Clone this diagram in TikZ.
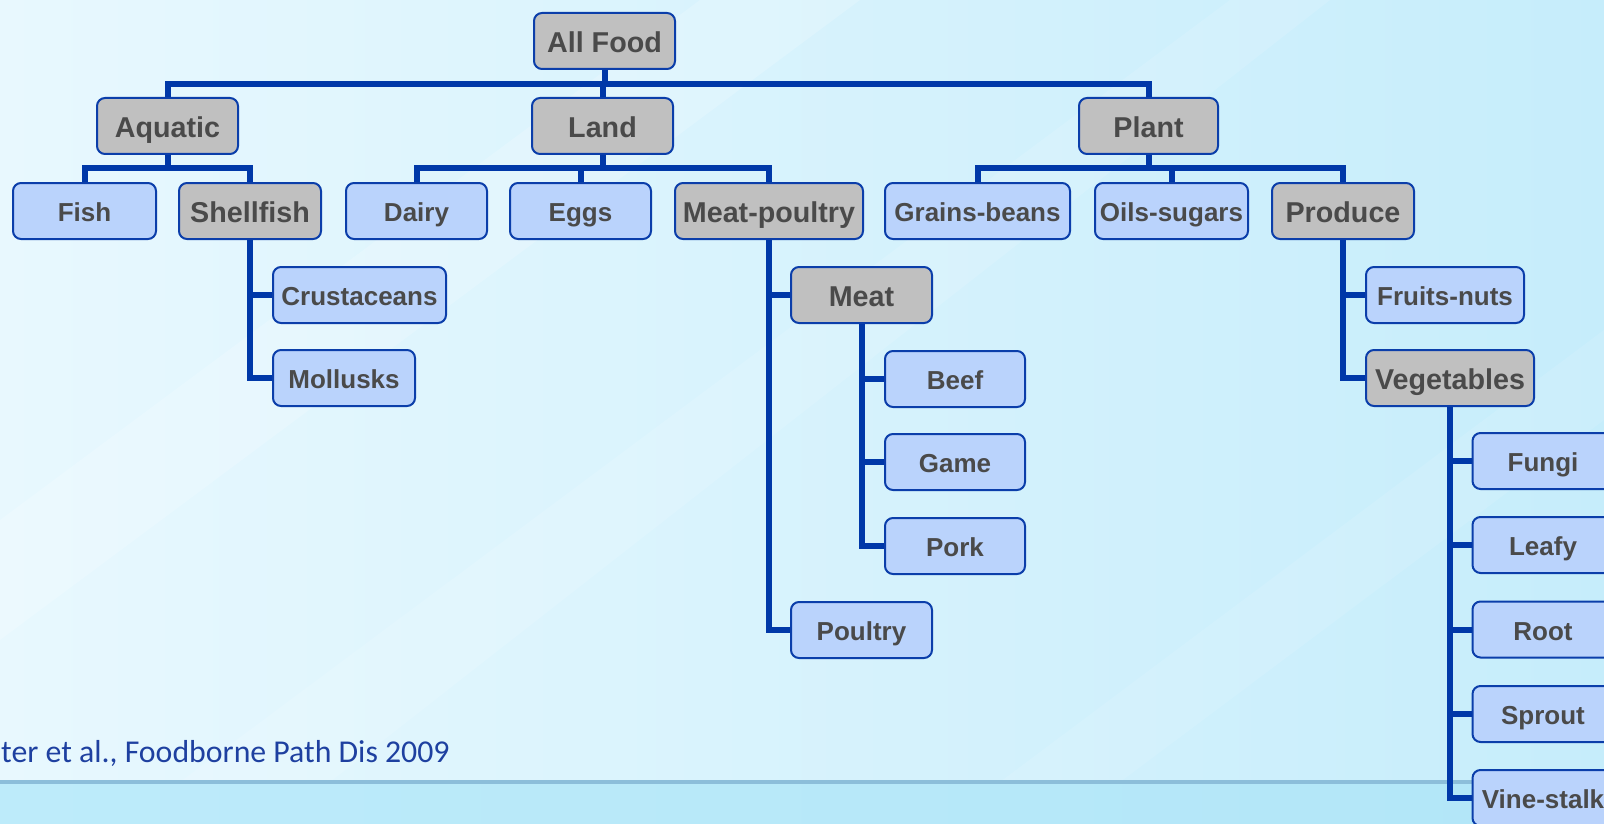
\documentclass[tikz,border=0pt]{standalone}
\usepackage{fontspec}
\setmainfont{Liberation Sans}
\newfontfamily\citefont{Carlito}
\usetikzlibrary{positioning,calc}
\definecolor{bgL}{HTML}{E8F8FE}
\definecolor{bgR}{HTML}{C6EDFB}
\definecolor{bandL}{HTML}{BDEBFA}
\definecolor{bandR}{HTML}{B2E6F8}
\definecolor{rulec}{HTML}{8CBEDA}
\definecolor{connc}{HTML}{0038A8}
\definecolor{boxline}{HTML}{0B3EAA}
\definecolor{grayfill}{HTML}{C0C0C0}
\definecolor{bluefill}{HTML}{BAD3FC}
\definecolor{txtc}{HTML}{4A4A4A}
\definecolor{citec}{HTML}{1E40A0}
\tikzset{
  basebox/.style={draw=boxline, line width=2pt, rounded corners=8pt, minimum height=56pt,
    inner sep=0pt, text=txtc, text depth=0pt, font=\bfseries},
  gbox/.style={basebox, fill=grayfill, text height=23.5pt, font=\bfseries\fontsize{28.7}{30}\selectfont},
  bbox/.style={basebox, fill=bluefill, text height=21.6pt, font=\bfseries\fontsize{26}{28}\selectfont},
  conn/.style={draw=connc, line width=6pt, line join=miter},
}
\begin{document}
\begin{tikzpicture}[x=1pt,y=-1pt]
\useasboundingbox (0,0) rectangle (1604,824);
\clip (0,0) rectangle (1604,824);
% background
\shade[left color=bgL, right color=bgR] (0,0) rectangle (1604,782);
\fill[white,opacity=0.18] (0,520) -- (700,0) -- (860,0) -- (0,640) -- cycle;
\fill[white,opacity=0.12] (180,782) -- (1230,0) -- (1330,0) -- (330,782) -- cycle;
\fill[white,opacity=0.10] (1000,782) -- (1604,330) -- (1604,420) -- (1120,782) -- cycle;
\shade[left color=bandL, right color=bandR] (0,782) rectangle (1604,824);
\draw[rulec, line width=4pt] (0,782) -- (1604,782);
% citation
\node[anchor=base west, inner sep=0pt, text=citec, font=\citefont\fontsize{31.8}{33}\selectfont] (cite) at (1,762) {ter et al., Foodborne Path Dis 2009};
% nodes
\node[gbox, minimum width=141pt] (allfood) at (604.5,41) {All Food};
\node[gbox, minimum width=141pt] (aquatic) at (167.5,126) {Aquatic};
\node[gbox, minimum width=141pt] (land) at (602.5,126) {Land};
\node[gbox, minimum width=139pt] (plant) at (1148.5,126) {Plant};
\node[bbox, minimum width=143pt] (fish) at (84.5,211) {Fish};
\node[gbox, minimum width=142pt] (shellfish) at (250,211) {Shellfish};
\node[bbox, minimum width=141pt] (dairy) at (416.5,211) {Dairy};
\node[bbox, minimum width=141pt] (eggs) at (580.5,211) {Eggs};
\node[gbox, minimum width=188pt] (meatpoultry) at (769,211) {Meat-poultry};
\node[bbox, minimum width=185pt] (grains) at (977.5,211) {Grains-beans};
\node[bbox, minimum width=153pt] (oils) at (1171.5,211) {Oils-sugars};
\node[gbox, minimum width=142pt] (produce) at (1343,211) {Produce};
\node[bbox, minimum width=173pt] (crust) at (359.5,295) {Crustaceans};
\node[bbox, minimum width=142pt] (mollusks) at (344,378) {Mollusks};
\node[gbox, minimum width=141pt] (meat) at (861.5,295) {Meat};
\node[bbox, minimum width=140pt] (beef) at (955,379) {Beef};
\node[bbox, minimum width=140pt] (game) at (955,462) {Game};
\node[bbox, minimum width=140pt] (pork) at (955,546) {Pork};
\node[bbox, minimum width=141pt] (poultry) at (861.5,630) {Poultry};
\node[bbox, minimum width=158pt] (fruits) at (1445,295) {Fruits-nuts};
\node[gbox, minimum width=168pt] (veg) at (1450,378) {Vegetables};
\node[bbox, minimum width=141pt] (fungi) at (1543,461) {Fungi};
\node[bbox, minimum width=141pt] (leafy) at (1543,545) {Leafy};
\node[bbox, minimum width=141pt] (root) at (1543,629.5) {Root};
\node[bbox, minimum width=141pt] (sprout) at (1543,714) {Sprout};
\node[bbox, minimum width=141pt] (vine) at (1543,798) {Vine-stalk};
% bus coordinates
\coordinate (bus1) at (0,84);
\coordinate (bus2) at (0,168);
% top level
\draw[conn] (allfood.south) -- (allfood.south |- bus1);
\draw[conn] (aquatic.north) -- (aquatic.north |- bus1) -| (plant.north);
\draw[conn] (land.north) -- (land.north |- bus1);
% aquatic
\draw[conn] (aquatic.south) -- (aquatic.south |- bus2);
\draw[conn] (fish.north) -- (fish.north |- bus2) -| (shellfish.north);
% land
\draw[conn] (land.south) -- (land.south |- bus2);
\draw[conn] (dairy.north) -- (dairy.north |- bus2) -| (meatpoultry.north);
\draw[conn] (eggs.north) -- (eggs.north |- bus2);
% plant
\draw[conn] (plant.south) -- (plant.south |- bus2);
\draw[conn] (grains.north) -- (grains.north |- bus2) -| (produce.north);
\draw[conn] (oils.north) -- (oils.north |- bus2);
% shellfish
\draw[conn] (shellfish.south) |- (crust.west);
\draw[conn] (shellfish.south) |- (mollusks.west);
% meat-poultry
\draw[conn] (meatpoultry.south) |- (meat.west);
\draw[conn] (meatpoultry.south) |- (poultry.west);
% meat
\draw[conn] (meat.south) |- (beef.west);
\draw[conn] (meat.south) |- (game.west);
\draw[conn] (meat.south) |- (pork.west);
% produce
\draw[conn] (produce.south) |- (fruits.west);
\draw[conn] (produce.south) |- (veg.west);
% vegetables
\draw[conn] (veg.south) |- (fungi.west);
\draw[conn] (veg.south) |- (leafy.west);
\draw[conn] (veg.south) |- (root.west);
\draw[conn] (veg.south) |- (sprout.west);
\draw[conn] (veg.south) |- (vine.west);
\end{tikzpicture}
\end{document}
